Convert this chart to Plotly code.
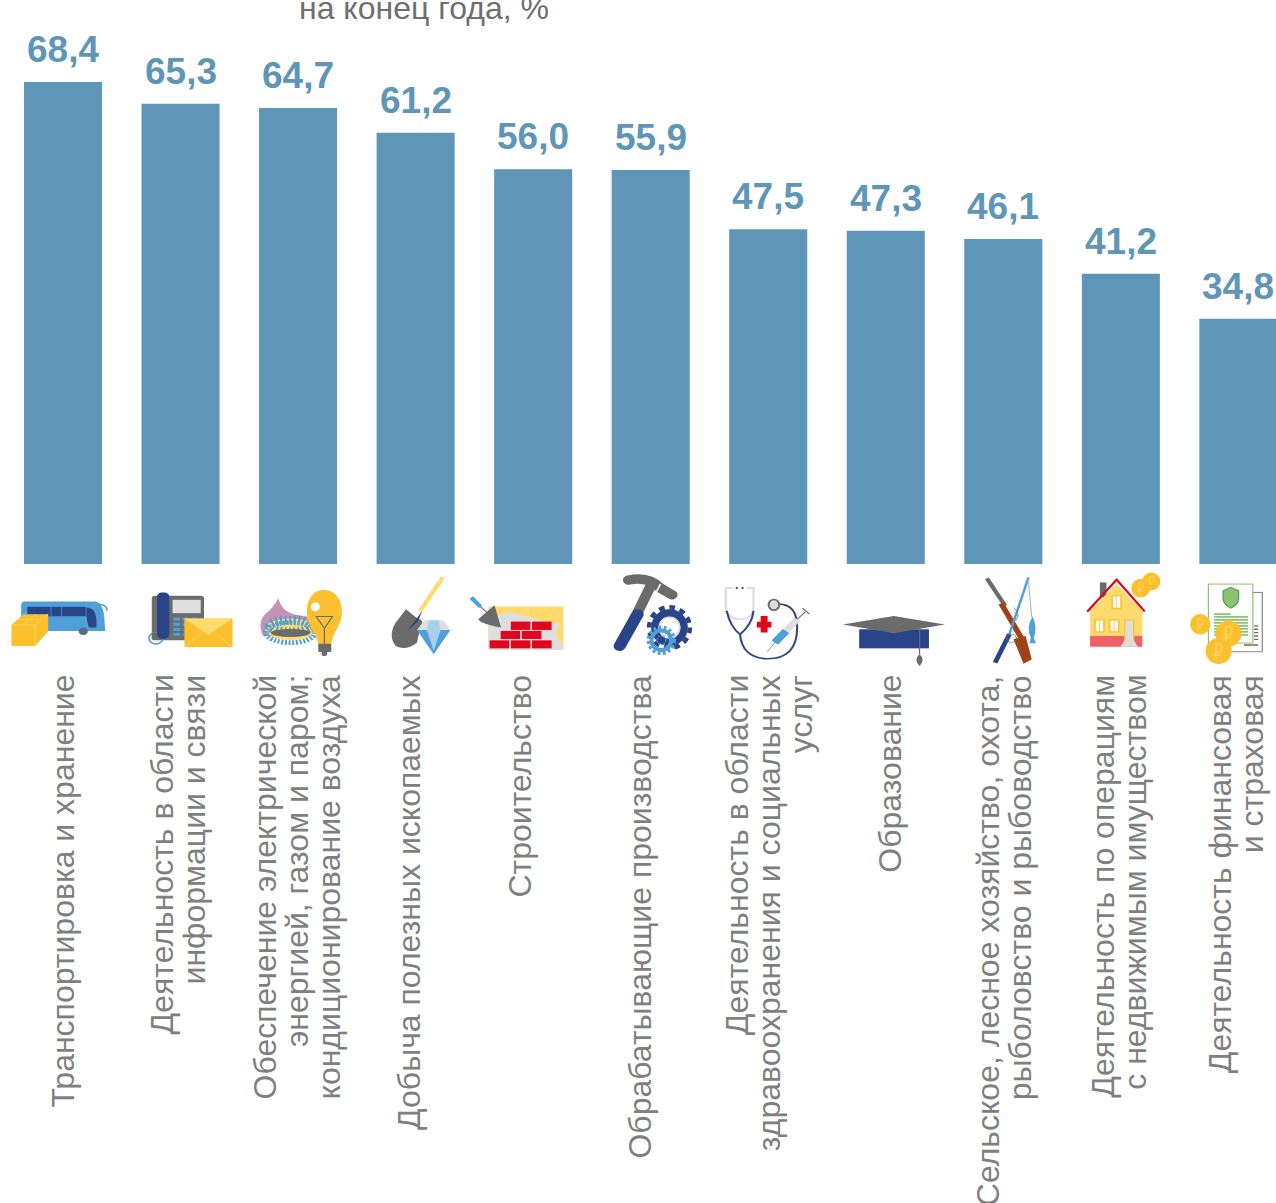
import base64
import plotly.graph_objects as go

categories = [
    "Транспортировка и хранение",
    "Деятельность в области<br>информации и связи",
    "Обеспечение электрической<br>энергией, газом и паром;<br>кондиционирование воздуха",
    "Добыча полезных ископаемых",
    "Строительство",
    "Обрабатывающие производства",
    "Деятельность в области<br>здравоохранения и социальных<br>услуг",
    "Образование",
    "Сельское, лесное хозяйство, охота,<br>рыболовство и рыбоводство",
    "Деятельность по операциям<br>с недвижимым имуществом",
    "Деятельность финансовая<br>и страховая",
]
values = [68.4, 65.3, 64.7, 61.2, 56.0, 55.9, 47.5, 47.3, 46.1, 41.2, 34.8]
value_labels = ["68,4", "65,3", "64,7", "61,2", "56,0", "55,9", "47,5", "47,3", "46,1", "41,2", "34,8"]
title_fragment = "на конец года, %"

NAVY, BLUE, GOLD, PALE, GREY, LIGHT, RED = "#2a4488", "#4f9fd8", "#fcc02e", "#ffdb6e", "#6b6b6b", "#dedede", "#e2051e"
ROUND = 1.22


def coin(cx, cy, r):
    k = r / 24
    return (f'<g transform="translate({cx},{cy}) scale({k},{k * ROUND})"><circle r="24" fill="{GOLD}"/>'
            f'<path d="M-5 15V-13H3Q11-6 3 2H-5M-10 8H4" fill="none" stroke="{PALE}" stroke-width="2"/></g>')


left_icons = f'''
<path d="M52 122Q52 112 62 112H235Q250 115 255 150L258 200H52Z" fill="{BLUE}"/>
<rect x="67" y="128" width="143" height="28" fill="{NAVY}"/>
<path d="M125 128V156M151 128V156" stroke="{BLUE}" stroke-width="2"/>
<path d="M212 130Q240 130 236 190H218Q210 160 212 130Z" fill="{NAVY}"/>
<path d="M240 120Q262 120 262 140" fill="none" stroke="{BLUE}" stroke-width="4"/>
<circle cx="204" cy="201" r="11" fill="#5a6a8a"/>
<path d="M28 182L58 150H118V202L86 245H28Z" fill="{GOLD}"/>
<path d="M28 182H86L118 150M86 182V245M43 166H100M88 150L58 182" fill="none" stroke="{PALE}" stroke-width="2"/>

<rect x="372" y="95" width="128" height="133" rx="8" fill="{GREY}"/>
<circle cx="382" cy="222" r="17" fill="none" stroke="{BLUE}" stroke-width="4"/>
<rect x="372" y="205" width="40" height="20" fill="{GREY}"/>
<rect x="385" y="85" width="30" height="138" rx="12" fill="{NAVY}"/>
<rect x="423" y="107" width="69" height="40" fill="{LIGHT}"/>
<path d="M425 164H492M425 180H492M425 196H450M425 210H450" stroke="{BLUE}" stroke-width="9" stroke-dasharray="17 5"/>
<rect x="452" y="163" width="118" height="85" fill="{GOLD}"/>
<path d="M452 163H570L511 212Z" fill="{PALE}"/>
<path d="M452 248L495 205M570 248L527 205" stroke="{PALE}" stroke-width="2"/>

<path d="M682 103Q670 130 650 150Q630 175 645 215L760 215L775 160Q740 155 720 150Q690 140 682 103Z" fill="#c493b5"/>
<ellipse cx="712" cy="195" rx="62" ry="32" fill="{PALE}"/>
<ellipse cx="712" cy="205" rx="60" ry="30" fill="none" stroke="{BLUE}" stroke-width="14" stroke-dasharray="5 4"/>
<ellipse cx="712" cy="185" rx="50" ry="18" fill="none" stroke="{BLUE}" stroke-width="26" stroke-dasharray="5 6"/>
<ellipse cx="712" cy="206" rx="48" ry="12" fill="{GREY}"/>
<path d="M794 78C825 78 840 115 838 150C836 185 815 205 812 240H780C778 205 752 190 752 145C752 110 765 78 794 78Z" fill="{GOLD}"/>
<ellipse cx="773" cy="128" rx="11" ry="13" fill="#fff"/>
<path d="M775 157H815L795 192ZM795 192V238" fill="none" stroke="{GREY}" stroke-width="3"/>
<rect x="780" y="238" width="32" height="25" rx="3" fill="{GREY}"/>
<circle cx="795" cy="268" r="7" fill="{GREY}"/>

<path d="M1085 40L1030 140" stroke="{PALE}" stroke-width="11"/>
<path d="M995 135L1020 160Q1045 170 1030 190L1022 235Q995 260 970 245Q950 215 970 175Z" fill="{GREY}"/>
<path d="M1035 140L1020 165L1000 198L1025 170Z" fill="{NAVY}"/>
<path d="M1040 168H1087L1104 197H1022Z" fill="{LIGHT}"/>
<path d="M1022 197H1104L1063 270Z" fill="{BLUE}"/>
<path d="M1052 168H1074L1080 197L1063 260L1046 197Z" fill="#a6d0ec"/>

<rect x="1197" y="127" width="184" height="130" fill="{PALE}"/>
<path d="M1197 257V170Q1240 135 1270 150Q1330 170 1375 180Q1350 210 1381 240V257Z" fill="{LIGHT}"/>
<g fill="{RED}">
<rect x="1252" y="172" width="48" height="25"/><rect x="1304" y="172" width="48" height="25"/>
<rect x="1227" y="200" width="48" height="24"/><rect x="1279" y="200" width="48" height="24"/>
<rect x="1200" y="228" width="48" height="24"/><rect x="1252" y="228" width="48" height="24"/><rect x="1304" y="228" width="48" height="24"/>
</g>
<path d="M1172 165L1212 123L1228 190Q1180 180 1172 165Z" fill="{GREY}"/>
<path d="M1155 100L1178 128" stroke="{BLUE}" stroke-width="11"/>
<path d="M1178 128L1195 147" stroke="{GREY}" stroke-width="3"/>
'''

right_icons = f'''
<path d="M2 150L38 60" stroke="{GREY}" stroke-width="26"/>
<path d="M-18 48Q30 35 60 72L88 92" stroke="{GREY}" stroke-width="28" fill="none" stroke-linecap="round"/>
<path d="M60 60L48 88" stroke="#fff" stroke-width="4"/>
<path d="M-40 245L4 150" stroke="{NAVY}" stroke-width="30" stroke-linecap="round"/>
<g transform="translate(82,190) scale(1,{ROUND})">
<circle r="50" fill="none" stroke="{NAVY}" stroke-width="11" stroke-dasharray="14 12"/>
<circle r="36" fill="none" stroke="{NAVY}" stroke-width="18"/>
<circle r="25" fill="none" stroke="#d8d8e4" stroke-width="3"/>
</g>
<g transform="translate(62,228) scale(1,{ROUND})">
<circle r="32" fill="none" stroke="{BLUE}" stroke-width="8" stroke-dasharray="7 6"/>
<circle r="24" fill="none" stroke="{BLUE}" stroke-width="10"/>
<circle r="11" fill="none" stroke="{BLUE}" stroke-width="3" stroke-dasharray="4 3"/>
</g>

<path d="M220 72V130Q225 165 255 165Q285 165 288 130V72H272M220 72H236" fill="none" stroke="{LIGHT}" stroke-width="6"/>
<circle cx="247" cy="72" r="3" fill="{NAVY}"/><circle cx="261" cy="72" r="3" fill="{NAVY}"/>
<path d="M222 140Q232 190 255 210M288 140Q285 180 255 210M255 210Q260 280 320 283Q395 285 395 190Q395 120 350 120" fill="none" stroke="{NAVY}" stroke-width="5"/>
<ellipse cx="338" cy="122" rx="13" ry="16" fill="{LIGHT}" stroke="{GREY}" stroke-width="5"/>
<path d="M314 155V205M296 181H332" stroke="{RED}" stroke-width="17"/>
<path d="M340 235L368 200" stroke="{BLUE}" stroke-width="20"/>
<path d="M368 200L395 165" stroke="{LIGHT}" stroke-width="18"/>
<path d="M395 165L415 143M408 132L425 150" stroke="{GREY}" stroke-width="3" fill="none"/>
<path d="M340 235L322 262" stroke="{GREY}" stroke-width="2"/>

<rect x="547" y="195" width="171" height="57" fill="{NAVY}"/>
<path d="M507 181L632 155L757 181L632 207Z" fill="{GREY}"/>
<path d="M695 195V270" stroke="{GREY}" stroke-width="3"/>
<path d="M695 270Q710 285 695 305Q680 285 695 270Z" fill="{GREY}"/>

<path d="M860 43L905 125" stroke="{GREY}" stroke-width="11"/>
<path d="M895 118L945 222" stroke="#a0421a" stroke-width="14"/>
<path d="M925 225L955 215L970 285L950 298Z" fill="#a0421a"/>
<path d="M880 295L915 210" stroke="{NAVY}" stroke-width="12"/>
<path d="M915 210L962 40" stroke="{BLUE}" stroke-width="6"/>
<path d="M962 55L970 160" stroke="{GREY}" stroke-width="1.5"/>
<circle cx="920" cy="222" r="12" fill="none" stroke="{GREY}" stroke-width="3" stroke-dasharray="3 2"/>
<path d="M925 130Q945 150 930 170" fill="none" stroke="{GREY}" stroke-width="2"/>
<path d="M972 157Q985 190 975 220L980 237L964 237L968 220Q955 190 972 157Z" fill="{BLUE}"/>

<path d="M1137 100V55H1153V100Z" fill="{GREY}"/>
<path d="M1113 140L1178 60L1241 140V247H1113Z" fill="{PALE}"/>
<rect x="1113" y="215" width="128" height="32" fill="#ef5f66"/>
<path d="M1106 142L1178 47L1247 142" fill="none" stroke="{RED}" stroke-width="6"/>
<g fill="#fff" stroke="{GOLD}" stroke-width="4">
<rect x="1167" y="95" width="22" height="38"/><rect x="1125" y="167" width="22" height="36"/><rect x="1161" y="167" width="22" height="36"/>
</g>
<path d="M1178 95V133M1136 167V203M1172 167V203" stroke="{GOLD}" stroke-width="2"/>
<rect x="1198" y="167" width="22" height="62" fill="{LIGHT}" stroke="{GOLD}" stroke-width="3"/>
<path d="M1187 247L1198 228H1220L1230 247Z" fill="{LIGHT}"/>
{coin(1263, 52, 22)}{coin(1237, 72, 23)}

<rect x="1440" y="85" width="95" height="177" fill="#fff" stroke="#888" stroke-width="3"/>
<path d="M1515 185H1525M1515 195H1525M1515 205H1525M1515 215H1525M1515 225H1525M1490 242H1525" stroke="{GREY}" stroke-width="4"/>
<rect x="1403" y="60" width="109" height="176" fill="#fff" stroke="#8cc36e" stroke-width="3"/>
<path d="M1458 70L1477 80V105Q1475 122 1458 132Q1441 122 1439 105V80Z" fill="#8cc36e" stroke="#4f9a5a" stroke-width="3"/>
<path d="M1417 150H1458M1417 158H1500M1417 167H1500M1417 176H1500M1417 185H1500M1417 194H1500M1417 203H1500M1417 212H1500" stroke="#8cc36e" stroke-width="5"/>
{coin(1383, 180, 25)}{coin(1428, 260, 32)}{coin(1452, 208, 32)}
'''

icons_svg = (
    '<svg xmlns="http://www.w3.org/2000/svg" width="1276" height="110" viewBox="0 0 1276 110">'
    f'<g transform="scale(0.408,0.335)">{left_icons}</g>'
    f'<g transform="translate(636,0) scale(0.408,0.335)">{right_icons}</g></svg>'
)
icons_uri = "data:image/svg+xml;base64," + base64.b64encode(icons_svg.encode()).decode()

PLOT_BOTTOM = 564.5
LABEL_TOP = 673.5
LINE_STEP = 32
LABEL_NUDGE = [0, -3, -1, -6, -13, -11, 1, 4, 1.5, -1.5, -2]

annotations = [dict(text=title_fragment, xref="paper", yref="paper", x=424 / 1276, y=1,
                    xanchor="center", yanchor="top", yshift=12, showarrow=False,
                    font=dict(family="Liberation Sans", size=32, color="#6f6f6f"))]
for i, (label, value_text, value) in enumerate(zip(categories, value_labels, values)):
    annotations.append(dict(text=value_text, x=i, y=value, xref="x", yref="y", yanchor="bottom",
                            xanchor="center", yshift=10, showarrow=False,
                            font=dict(family="Liberation Sans", size=37, color="#5f96b8", weight="bold")))
    lines = label.split("<br>")
    for j, line in enumerate(lines):
        annotations.append(dict(text=line, x=i, xref="x",
                                xshift=(j - (len(lines) - 1) / 2) * LINE_STEP + LABEL_NUDGE[i],
                                y=(PLOT_BOTTOM - LABEL_TOP) / PLOT_BOTTOM, yref="paper",
                                xanchor="center", yanchor="top", textangle=-90, showarrow=False,
                                font=dict(family="Liberation Sans", size=32, color="#7f7f7f")))

fig = go.Figure(
    go.Bar(
        x=list(range(len(values))),
        y=values,
        cliponaxis=False,
        marker=dict(color="#5f96b8", line_width=0),
    )
)
fig.update_layout(
    width=1276,
    height=1203,
    autosize=False,
    margin=dict(l=0, r=0, t=0, b=1203 - PLOT_BOTTOM, pad=0),
    paper_bgcolor="#ffffff",
    plot_bgcolor="#ffffff",
    bargap=0.336,
    showlegend=False,
    font=dict(family="Liberation Sans"),
    images=[dict(source=icons_uri, xref="paper", yref="paper", x=0, y=0, sizex=1,
                 sizey=110 / PLOT_BOTTOM, xanchor="left", yanchor="top", sizing="stretch", layer="above")],
    annotations=annotations,
)
fig.update_xaxes(
    range=[-0.536, 10.32],
    tickvals=list(range(len(values))),
    showticklabels=False,
    ticks="",
    showline=False,
    showgrid=False,
    zeroline=False,
    automargin=False,
)
fig.update_yaxes(range=[0, 80.03], visible=False, showgrid=False, zeroline=False, automargin=False)

fig.write_html("out.html", config={"displayModeBar": False},
               post_script="document.body.style.margin='0';document.documentElement.style.overflow='hidden';")
